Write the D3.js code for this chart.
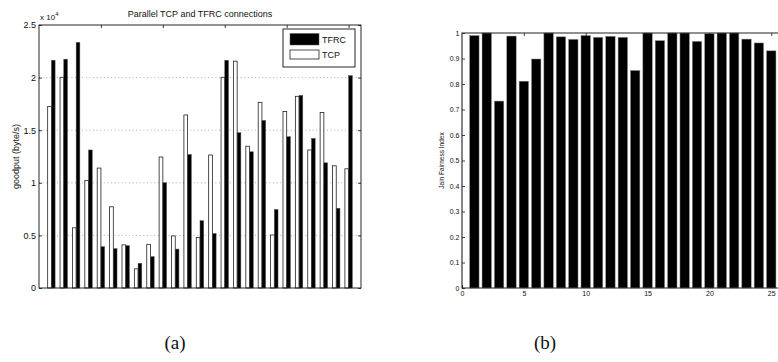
<!DOCTYPE html>
<html>
<head>
<meta charset="utf-8">
<script src="https://cdn.jsdelivr.net/npm/d3@7"></script>
<style>
  html, body { margin: 0; padding: 0; background: #fff; }
  svg { display: block; }
  text { font-family: "Liberation Sans", Arial, Helvetica, sans-serif; fill: #111; }
  .cap { font-family: "Liberation Serif", "Times New Roman", serif; }
</style>
</head>
<body>
<svg id="fig" width="778" height="362"></svg>
<script>
// Connection index (1..25)
const connections = d3.range(1, 26);
// Goodput per connection, byte/s
const tcpGoodput  = [17250, 20030, 5720, 10220, 11400, 7720, 4100, 1820, 4150, 12450, 4950, 16450, 4800, 12640, 20030, 21560, 13480, 17650, 5040, 16780, 18220, 13120, 16680, 11620, 11330];
const tfrcGoodput = [21650, 21750, 23350, 13120, 3930, 3740, 4030, 2350, 2980, 10010, 3700, 12700, 6400, 5180, 21650, 14760, 12950, 15930, 7460, 14380, 18310, 14220, 11900, 7580, 20180];
// Jain fairness index per connection
const jainIndex = [0.990, 1.0, 0.733, 0.988, 0.811, 0.898, 1.0, 0.985, 0.975, 0.990, 0.983, 0.987, 0.983, 0.853, 1.0, 0.970, 1.0, 1.0, 0.967, 0.997, 1.0, 1.0, 0.976, 0.961, 0.930];
// Tick values
const goodputTicks = [0, 5000, 10000, 15000, 20000, 25000];
const goodputTickLabels = ["0", "0.5", "1", "1.5", "2", "2.5"];
const connTicks = [0, 5, 10, 15, 20, 25];
const jainTicks = [0, 0.1, 0.2, 0.3, 0.4, 0.5, 0.6, 0.7, 0.8, 0.9, 1];
const jainTickLabels = ["0", "0.1", "0.2", "0.3", "0.4", "0.5", "0.6", "0.7", "0.8", "0.9", "1"];

const svg = d3.select("#fig");

function styleAxis(g, size) {
  g.select(".domain").remove();
  g.selectAll(".tick line").attr("stroke", "#111").attr("stroke-width", 0.8);
  g.selectAll(".tick text").style("font-size", size + "px").attr("fill", "#222");
}

// ---------- (a) goodput ----------
{
  const L = 39, R = 361, T = 25, B = 288;
  const x = d3.scaleLinear().domain([0, 26]).range([L, R]);
  const y = d3.scaleLinear().domain([0, 25000]).range([B, T]);
  const g = svg.append("g");

  // horizontal dotted grid
  g.selectAll("line.grid").data(goodputTicks.slice(1, -1)).join("line")
    .attr("x1", L).attr("x2", R)
    .attr("y1", d => y(d)).attr("y2", d => y(d))
    .attr("stroke", "#9a9a9a").attr("stroke-width", 0.8)
    .attr("stroke-dasharray", "1,2.6");

  const bw = x(0.3) - x(0);
  // TCP bars (white), left of each connection
  g.selectAll("rect.tcp").data(connections).join("rect")
    .attr("x", (d) => x(d) - bw)
    .attr("y", (d, i) => y(tcpGoodput[i]))
    .attr("width", bw)
    .attr("height", (d, i) => B - y(tcpGoodput[i]))
    .attr("fill", "#fff").attr("stroke", "#222").attr("stroke-width", 0.8);
  // TFRC bars (black), right of each connection
  g.selectAll("rect.tfrc").data(connections).join("rect")
    .attr("x", (d) => x(d))
    .attr("y", (d, i) => y(tfrcGoodput[i]))
    .attr("width", bw)
    .attr("height", (d, i) => B - y(tfrcGoodput[i]))
    .attr("fill", "#000").attr("stroke", "#555").attr("stroke-width", 0.5);

  // axes: ticks pointing inward
  g.append("g").attr("transform", `translate(${L},0)`)
    .call(d3.axisLeft(y).tickValues(goodputTicks).tickSize(-3).tickPadding(3)
      .tickFormat((d, i) => goodputTickLabels[i]))
    .call(a => styleAxis(a, 9));
  g.append("g").attr("transform", `translate(${R},0)`)
    .call(d3.axisRight(y).tickValues(goodputTicks).tickSize(-3).tickFormat(""))
    .call(a => styleAxis(a, 9));
  g.append("g").attr("transform", `translate(0,${T})`)
    .call(d3.axisTop(x).tickValues(connTicks.slice(1)).tickSize(-3).tickFormat(""))
    .call(a => styleAxis(a, 9));
  g.append("g").attr("transform", `translate(0,${B})`)
    .call(d3.axisBottom(x).tickValues(connTicks.slice(1)).tickSize(-3).tickFormat(""))
    .call(a => styleAxis(a, 9));

  g.append("rect").attr("x", L).attr("y", T).attr("width", R - L).attr("height", B - T)
    .attr("fill", "none").attr("stroke", "#111").attr("stroke-width", 0.9);

  // exponent label
  const ex = g.append("text").attr("x", L + 1).attr("y", 20).style("font-size", "8px");
  ex.append("tspan").text("x 10");
  ex.append("tspan").attr("dy", -4).style("font-size", "6px").text("4");

  g.append("text").attr("x", (L + R) / 2).attr("y", 16.5).attr("text-anchor", "middle")
    .style("font-size", "9px").text("Parallel TCP and TFRC connections");

  g.append("text").attr("transform", `translate(19,${(T + B) / 2}) rotate(-90)`)
    .attr("text-anchor", "middle").style("font-size", "9px").text("goodput (byte/s)");

  // legend
  const lg = g.append("g");
  lg.append("rect").attr("x", 283).attr("y", 29).attr("width", 72).attr("height", 38)
    .attr("fill", "#fff").attr("stroke", "#111").attr("stroke-width", 0.9);
  lg.append("rect").attr("x", 290).attr("y", 33.5).attr("width", 29).attr("height", 11.5)
    .attr("fill", "#000").attr("stroke", "#555").attr("stroke-width", 0.5);
  lg.append("rect").attr("x", 290).attr("y", 50).attr("width", 29).attr("height", 9)
    .attr("fill", "#fff").attr("stroke", "#222").attr("stroke-width", 0.8);
  lg.append("text").attr("x", 322).attr("y", 43).style("font-size", "9px").text("TFRC");
  lg.append("text").attr("x", 322).attr("y", 58).style("font-size", "9px").text("TCP");
}

// ---------- (b) Jain fairness ----------
{
  const L = 462, T = 33, B = 288;
  const x = d3.scaleLinear().domain([0, 26]).range([L, L + 26 * 12.37]);
  const R = x(26);
  const y = d3.scaleLinear().domain([0, 1]).range([B, T]);
  const g = svg.append("g");

  const bw = x(0.76) - x(0);
  g.selectAll("rect.jain").data(connections).join("rect")
    .attr("x", d => x(d) - bw / 2)
    .attr("y", (d, i) => y(jainIndex[i]))
    .attr("width", bw)
    .attr("height", (d, i) => B - y(jainIndex[i]))
    .attr("fill", "#000").attr("stroke", "#888").attr("stroke-width", 0.5);

  g.append("g").attr("transform", `translate(${L},0)`)
    .call(d3.axisLeft(y).tickValues(jainTicks).tickSize(-3).tickPadding(2.5)
      .tickFormat((d, i) => jainTickLabels[i]))
    .call(a => styleAxis(a, 7));
  g.append("g").attr("transform", `translate(0,${B})`)
    .call(d3.axisBottom(x).tickValues(connTicks).tickSize(-3).tickPadding(3))
    .call(a => styleAxis(a, 7));
  g.append("g").attr("transform", `translate(0,${T})`)
    .call(d3.axisTop(x).tickValues(connTicks.slice(1)).tickSize(-3).tickFormat(""))
    .call(a => styleAxis(a, 7));

  g.append("path")
    .attr("d", `M${R},${T}H${L}V${B}H${R}`)
    .attr("fill", "none").attr("stroke", "#222").attr("stroke-width", 1.1);

  g.append("text").attr("transform", `translate(444,${(T + B) / 2}) rotate(-90)`)
    .attr("text-anchor", "middle").style("font-size", "6.5px").text("Jain Fairness Index");
}

// captions
svg.append("text").attr("class", "cap").attr("x", 175).attr("y", 349)
  .attr("text-anchor", "middle").style("font-size", "19px").text("(a)");
svg.append("text").attr("class", "cap").attr("x", 545).attr("y", 349)
  .attr("text-anchor", "middle").style("font-size", "19px").text("(b)");
</script>
</body>
</html>
